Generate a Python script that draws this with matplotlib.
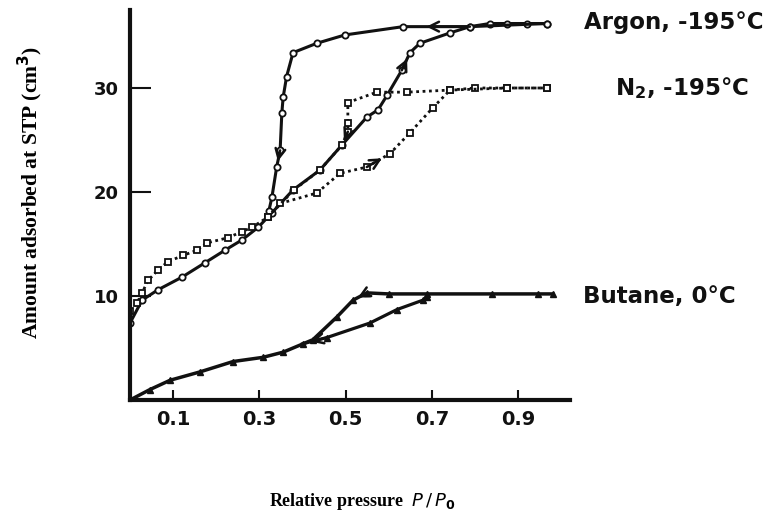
import matplotlib
matplotlib.use("Agg")
import matplotlib.pyplot as plt

# Argon at -195 °C
argon_ads_p = [0.0, 0.028, 0.065, 0.12, 0.174, 0.22, 0.26, 0.297, 0.329, 0.378, 0.44, 0.491,
               0.549, 0.575, 0.596, 0.63, 0.649, 0.672, 0.742, 0.788, 0.834, 0.874, 0.92, 0.966]
argon_ads_v = [7.4, 9.6, 10.6, 11.8, 13.2, 14.4, 15.4, 16.6, 18.0, 20.2, 22.1, 24.5,
               27.2, 27.9, 29.3, 31.7, 33.4, 34.3, 35.3, 35.9, 36.2, 36.2, 36.2, 36.2]
argon_des_p = [0.966, 0.788, 0.633, 0.498, 0.433, 0.378, 0.363, 0.355, 0.352, 0.348, 0.340, 0.329, 0.322]
argon_des_v = [36.2, 35.9, 35.9, 35.1, 34.3, 33.4, 31.1, 29.1, 27.6, 24.0, 22.4, 19.5, 18.2]

# Nitrogen at -195 °C
n2_ads_p = [0.0, 0.016, 0.028, 0.042, 0.065, 0.088, 0.123, 0.155, 0.178, 0.227, 0.26, 0.283,
            0.32, 0.348, 0.433, 0.487, 0.549, 0.603, 0.649, 0.702, 0.742, 0.80, 0.874, 0.966]
n2_ads_v = [8.6, 9.3, 10.3, 11.5, 12.5, 13.3, 13.9, 14.4, 15.1, 15.6, 16.2, 16.6,
            17.6, 18.9, 19.9, 21.8, 22.4, 23.7, 25.7, 28.1, 29.8, 30.0, 30.0, 30.0]
n2_des_p = [0.966, 0.874, 0.742, 0.642, 0.572, 0.505, 0.505, 0.505, 0.491, 0.44, 0.38, 0.32]
n2_des_v = [30.0, 30.0, 29.8, 29.6, 29.6, 28.6, 26.6, 25.8, 24.5, 22.1, 20.2, 17.6]

# Butane at 0 °C
butane_up_p = [0.0, 0.046, 0.093, 0.162, 0.239, 0.308, 0.355, 0.424, 0.48, 0.517, 0.549,
               0.60, 0.688, 0.84, 0.946, 0.98]
butane_up_v = [0.0, 1.0, 1.9, 2.7, 3.7, 4.1, 4.6, 5.8, 8.0, 9.6, 10.3,
               10.2, 10.2, 10.2, 10.2, 10.2]
butane_low_p = [0.688, 0.679, 0.619, 0.556, 0.456, 0.40]
butane_low_v = [9.9, 9.6, 8.7, 7.4, 6.0, 5.4]

x_ticks = [0.1, 0.3, 0.5, 0.7, 0.9]
x_tick_labels = ["0.1", "0.3", "0.5", "0.7", "0.9"]
y_ticks = [10, 20, 30]
y_tick_labels = ["10", "20", "30"]

series_labels = ["Argon, -195°C", r"N$_\mathbf{2}$, -195°C", "Butane, 0°C"]

W, H = 771, 524
fig = plt.figure(figsize=(W / 100, H / 100), dpi=100)
ax = fig.add_axes([130 / W, 124 / H, 440 / W, 390 / H])
ax.set_xlim(0, 1.02)
ax.set_ylim(0, 37.5)

black = "#111111"
solid = dict(color=black, lw=2.2, solid_capstyle="round", solid_joinstyle="round")
ax.plot(argon_ads_p, argon_ads_v, marker="o", ms=4.5, mfc="white", mec=black, mew=1.3, **solid)
ax.plot(argon_des_p, argon_des_v, marker="o", ms=4.5, mfc="white", mec=black, mew=1.3, **solid)
ax.plot(n2_ads_p, n2_ads_v, ls=(0, (1, 1.3)), color=black, lw=2.0,
        marker="s", ms=4.5, mfc="white", mec=black, mew=1.3)
ax.plot(n2_des_p, n2_des_v, ls=(0, (1, 1.3)), color=black, lw=2.0,
        marker="s", ms=4.5, mfc="white", mec=black, mew=1.3)
ax.plot(butane_up_p, butane_up_v, marker="^", ms=5, mfc=black, mec=black, lw=2.5, color=black)
ax.plot(butane_low_p, butane_low_v, marker="^", ms=5, mfc=black, mec=black, lw=2.3, color=black)


def arrow_on(xs, ys, i, frac=0.65):
    """Arrowhead along segment i of a curve, pointing in drawing order."""
    x0, y0 = xs[i], ys[i]
    x1 = x0 + (xs[i + 1] - x0) * frac
    y1 = y0 + (ys[i + 1] - y0) * frac
    ax.annotate("", xy=(x1, y1), xytext=(x0, y0),
                arrowprops=dict(arrowstyle="->,head_length=0.7,head_width=0.35",
                                lw=1.8, color=black, shrinkA=0, shrinkB=0))


arrow_on(argon_des_p, argon_des_v, 1)
arrow_on(argon_des_p, argon_des_v, 9)
arrow_on(argon_ads_p, argon_ads_v, 15)
arrow_on(n2_ads_p, n2_ads_v, 16)
arrow_on(n2_des_p, n2_des_v, 7)
arrow_on(butane_up_p[::-1], butane_up_v[::-1], 5)
arrow_on(butane_low_p, butane_low_v, 4)

for side in ("top", "right"):
    ax.spines[side].set_visible(False)
for side in ("left", "bottom"):
    ax.spines[side].set_linewidth(3)
    ax.spines[side].set_color(black)

ax.set_xticks(x_ticks)
ax.set_xticklabels(x_tick_labels, fontsize=14, fontweight="bold", family="DejaVu Sans")
ax.set_yticks(y_ticks)
ax.set_yticklabels(y_tick_labels, fontsize=13, fontweight="bold", family="DejaVu Sans")
ax.tick_params(axis="x", direction="in", length=7, width=1.5, pad=7, colors=black)
ax.tick_params(axis="y", direction="in", length=15, width=1.5, pad=8, colors=black)

fig.text(30 / W, 1 - 192 / H, "Amount adsorbed at STP (cm$^\\mathbf{3}$)", rotation=90,
         ha="center", va="center", family="Liberation Serif", fontweight="bold", fontsize=15.5)
fig.text(362 / W, 1 - 502 / H, r"Relative pressure  $\mathit{P}\,/\,\mathit{P}_\mathbf{0}$",
         ha="center", va="center", family="Liberation Serif", fontweight="bold", fontsize=13)

label_pos = [(584, 23), (615, 88), (583, 297)]
for text, (px, py) in zip(series_labels, label_pos):
    fig.text(px / W, 1 - py / H, text, ha="left", va="center", family="DejaVu Sans",
             fontweight="bold", fontsize=16.5, color=black)

fig.savefig("out.png", dpi=100)
